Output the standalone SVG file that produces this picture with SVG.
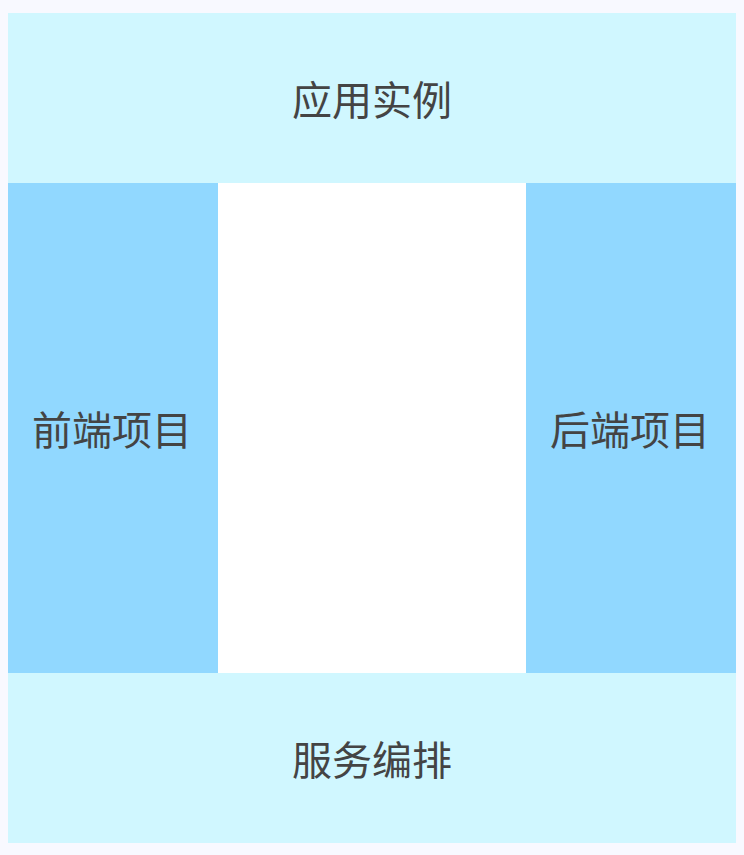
<svg xmlns="http://www.w3.org/2000/svg" width="744" height="855" viewBox="0 0 744 855">
<style>
.lt{fill:#d0f7ff}
.dk{fill:#91d8ff}
.t{font-family:"Noto Sans CJK SC","Noto Sans",sans-serif;font-size:40px;fill:#444;text-anchor:middle;dominant-baseline:central}
</style>
<rect x="0" y="0" width="744" height="855" fill="#f8f9ff"/>
<rect x="218" y="183" width="308" height="490" fill="#ffffff"/>
<g id="app"><rect class="lt" x="8" y="13" width="728" height="170"/><text class="t" x="372" y="98">应用实例</text></g>
<g id="frontend"><rect class="dk" x="8" y="183" width="210" height="490"/><text class="t" x="112" y="428">前端项目</text></g>
<g id="backend"><rect class="dk" x="526" y="183" width="210" height="490"/><text class="t" x="630" y="428">后端项目</text></g>
<g id="orchestration"><rect class="lt" x="8" y="673" width="728" height="170"/><text class="t" x="372" y="758">服务编排</text></g>
<g id="connectors"></g>
</svg>
